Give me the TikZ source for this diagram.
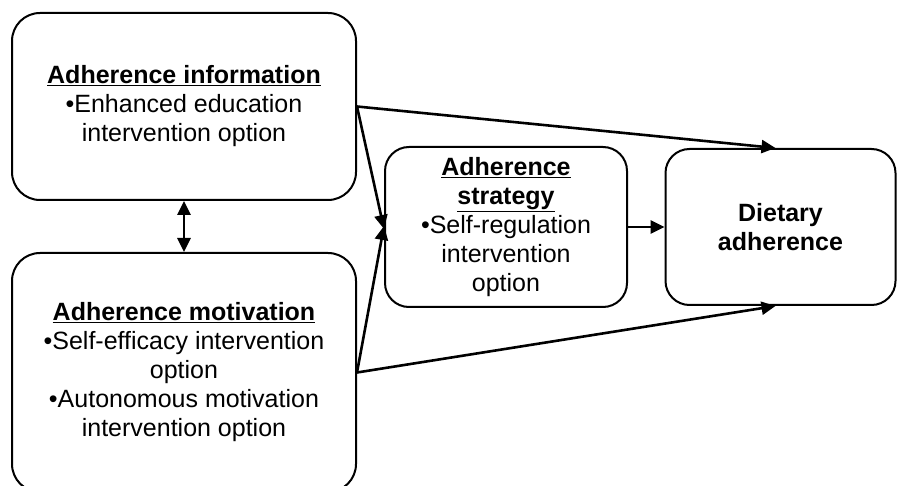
\documentclass[tikz,border=0pt]{standalone}
\usepackage{fontspec}
\setmainfont{Liberation Sans}
\usetikzlibrary{positioning,arrows.meta}
\begin{document}
\begin{tikzpicture}[
                        x=1pt, y=-1pt,
                        >={Triangle[length=14pt,width=13pt]},
                        block/.style={rectangle, draw, line width=2pt, align=center,
                                      font=\fontsize{25}{29}\selectfont},
                        link/.style={line width=2.6pt}
                    ]
                    \useasboundingbox (0,0) rectangle (897,486);
                    % Blocks
                    \node [block, rounded corners=28pt, minimum width=344pt, minimum height=187pt] (info) at (184,106.5)
                        {\textbf{\underline{Adherence information}}\\•Enhanced education\\intervention option};
                    \node [block, rounded corners=28pt, minimum width=344pt, minimum height=239pt] (motiv) at (184,372.5)
                        {\textbf{\underline{Adherence motivation}}\\•Self-efficacy intervention\\option\\•Autonomous motivation\\intervention option};
                    \node [block, rounded corners=24pt, minimum width=242pt, minimum height=160pt] (strat) at (506,227)
                        {\textbf{\underline{Adherence}}\\\textbf{\underline{strategy}}\\•Self-regulation\\intervention\\option};
                    \node [block, rounded corners=24pt, minimum width=230pt, minimum height=156pt] (diet) at (780.5,227)
                        {\textbf{Dietary}\\\textbf{adherence}};

                    % Connections
                    \draw [link, <->] (info) -- (motiv);
                    \draw [link, ->] (info.east) -- ([xshift=-5pt]diet.north);
                    \draw [link, ->] (motiv.east) -- ([xshift=-5pt]diet.south);
                    \draw [link, ->] (info.east) -- ([yshift=-2pt]strat.west);
                    \draw [link, ->] (motiv.east) -- ([yshift=1pt]strat.west);
                    \draw [link, ->] (strat) -- (diet);
                \end{tikzpicture}
\end{document}
